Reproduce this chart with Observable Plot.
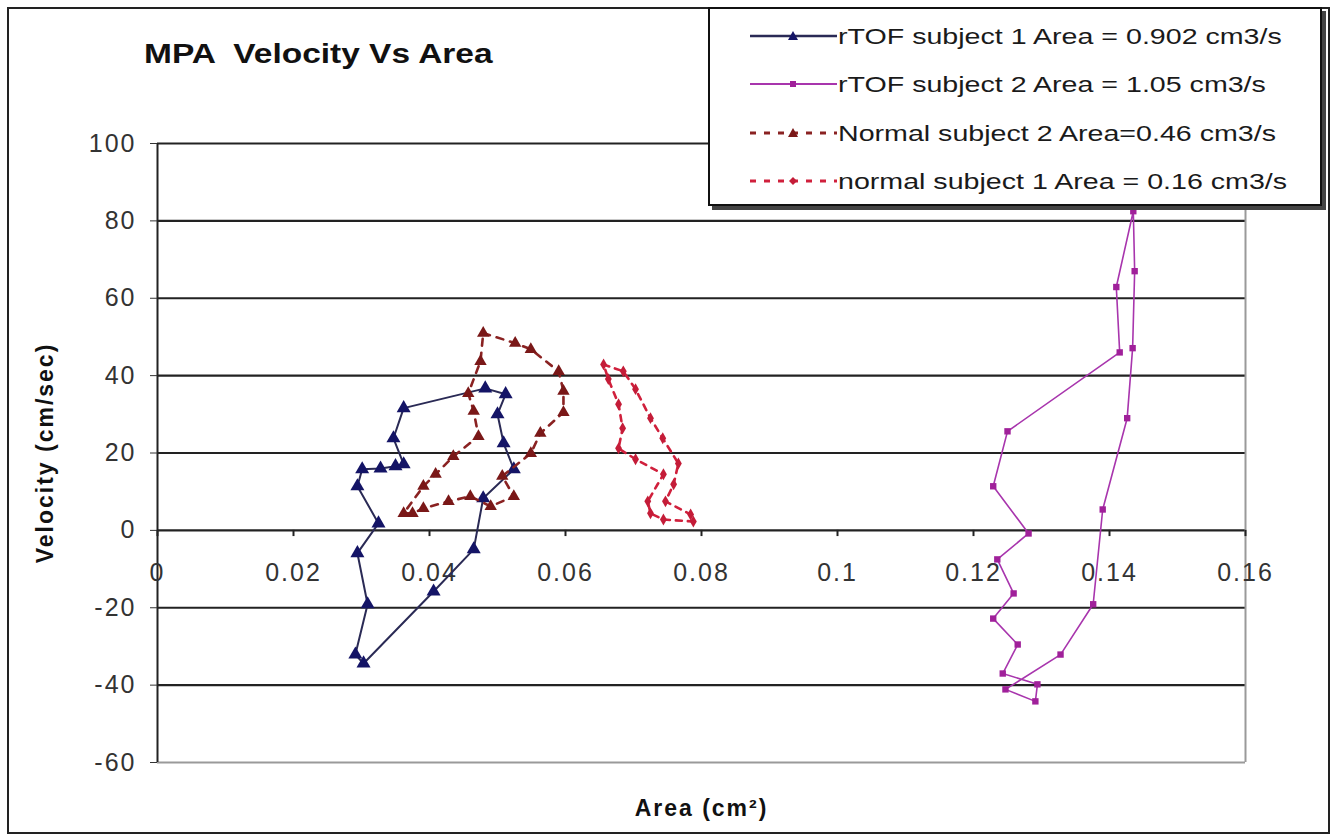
<!DOCTYPE html>
<html><head><meta charset="utf-8">
<script src="https://cdn.jsdelivr.net/npm/d3@7"></script>
<script src="https://cdn.jsdelivr.net/npm/@observablehq/plot@0.6"></script>
<style>
body{margin:0;background:#fff;font-family:"Liberation Sans",Arial,sans-serif;}
#wrap{position:relative;width:1333px;height:836px;overflow:hidden;background:#fff;}
#chart{position:absolute;left:0;top:0;}
#frame{position:absolute;left:7px;top:7px;width:1323px;height:827px;border:2px solid #222;box-sizing:border-box;pointer-events:none;}
#title{position:absolute;left:144px;top:39px;font-weight:bold;font-size:27px;color:#111;transform:scaleX(1.24);transform-origin:left center;white-space:pre;line-height:30px;}
#legend{position:absolute;left:708px;top:7px;width:614px;height:199px;border:2px solid #111;background:#fff;box-shadow:4px 4px 0 #444;box-sizing:border-box;}
.lrow{position:absolute;left:0;height:30px;width:600px;}
.lrow svg{position:absolute;left:38px;top:0;}
.lrow span{position:absolute;left:128px;top:2px;font-size:22px;line-height:26px;color:#1a1a1a;white-space:pre;transform:scaleX(1.3);transform-origin:left center;}
</style></head><body>
<div id="wrap"><div id="chart"></div><div id="frame"></div><div id="title">MPA  Velocity Vs Area</div><div id="legend"></div></div>
<script>
// Tick values
const xTicks = [0, 0.02, 0.04, 0.06, 0.08, 0.1, 0.12, 0.14, 0.16];
const xTickLabels = ["0", "0.02", "0.04", "0.06", "0.08", "0.1", "0.12", "0.14", "0.16"];
const yTicks = [-60, -40, -20, 0, 20, 40, 60, 80, 100];

// Series names
const seriesNames = [
  "rTOF subject 1 Area = 0.902 cm3/s",
  "rTOF subject 2 Area = 1.05 cm3/s",
  "Normal subject 2 Area=0.46 cm3/s",
  "normal subject 1 Area = 0.16 cm3/s"
];

// rTOF subject 1 (area cm², velocity cm/s)
const rtof1Area = [0.0362, 0.0482, 0.0512, 0.0500, 0.0509, 0.0524, 0.0479, 0.0465, 0.0406, 0.0303, 0.0291, 0.0309, 0.0294, 0.0325, 0.0294, 0.0301, 0.0328, 0.0350, 0.0362, 0.0347];
const rtof1Vel  = [31.6, 36.7, 35.2, 30.0, 22.5, 15.8, 8.3, -4.9, -15.8, -34.4, -32.1, -19.1, -5.9, 1.8, 11.4, 15.8, 16.0, 16.6, 17.1, 23.8];

// rTOF subject 2
const rtof2Area = [0.1435, 0.1437, 0.1434, 0.1426, 0.1390, 0.1376, 0.1328, 0.1247, 0.1291, 0.1294, 0.1243, 0.1265, 0.1229, 0.1259, 0.1235, 0.1281, 0.1229, 0.1250, 0.1415, 0.1410];
const rtof2Vel  = [82.5, 67.0, 47.1, 29.0, 5.4, -19.1, -32.1, -41.1, -44.2, -39.8, -37.0, -29.5, -22.8, -16.3, -7.5, -0.8, 11.4, 25.6, 46.0, 62.9];

// Normal subject 2
const norm2Area = [0.0479, 0.0526, 0.0549, 0.0590, 0.0597, 0.0597, 0.0563, 0.0549, 0.0507, 0.0524, 0.0490, 0.0460, 0.0428, 0.0391, 0.0375, 0.0362, 0.0391, 0.0409, 0.0435, 0.0472, 0.0465, 0.0457, 0.0475];
const norm2Vel  = [51.0, 48.4, 46.8, 41.1, 36.0, 30.5, 25.1, 19.9, 14.0, 8.8, 6.2, 8.8, 7.5, 5.7, 4.4, 4.4, 11.4, 14.5, 19.1, 24.3, 30.8, 35.4, 43.7];

// normal subject 1
const norm1Area = [0.0656, 0.0685, 0.0703, 0.0725, 0.0743, 0.0766, 0.0759, 0.0747, 0.0784, 0.0788, 0.0744, 0.0725, 0.0721, 0.0744, 0.0703, 0.0678, 0.0684, 0.0678, 0.0663];
const norm1Vel  = [42.9, 41.1, 36.5, 29.0, 23.8, 17.3, 11.9, 7.5, 4.1, 2.3, 2.8, 4.4, 7.5, 14.5, 18.4, 21.2, 26.4, 32.6, 39.1];

const toRows = (xs, ys) => xs.map((x, i) => ({x, y: ys[i]}));
const s1 = toRows(rtof1Area, rtof1Vel);
const s2 = toRows(rtof2Area, rtof2Vel);
const s3 = toRows(norm2Area, norm2Vel);
const s4 = toRows(norm1Area, norm1Vel);

const styles = [
  {line: "#2a2a55", dot: "#141466", dash: null, symbol: "triangle", r: 5.2, w: 2},
  {line: "#a835ad", dot: "#a0209a", dash: null, symbol: "square", r: 3.6, w: 1.6},
  {line: "#8a2222", dot: "#7a1818", dash: "7,7", symbol: "triangle", r: 4.6, w: 2.6},
  {line: "#d0203c", dot: "#c41c38", dash: "6,6", symbol: "diamond", r: 3.6, w: 2.6}
];
const seriesData = [s1, s2, s3, s4];

const marks = [
  Plot.ruleY(yTicks.filter(d => d > -60), {stroke: "#222", strokeWidth: 2.2}),
  Plot.ruleY([-60], {stroke: "#9a9a9a", strokeWidth: 2}),
  Plot.ruleX([0.16], {stroke: "#9a9a9a", strokeWidth: 2}),
  Plot.ruleX([0], {stroke: "#222", strokeWidth: 2}),
  Plot.axisY({ticks: yTicks, tickSize: 7, tickPadding: 14, fontSize: 25, label: null, color: "#333", tickFormat: d => String(d)}),
  Plot.ruleX(xTicks, {x: d => d, y1: 0, y2: -1.6, stroke: "#222", strokeWidth: 2}),
  Plot.text(xTickLabels, {x: (d, i) => xTicks[i], y: 0, dy: 43, text: d => d, fontSize: 25, fill: "#333"}),
  Plot.text(["Velocity (cm/sec)"], {frameAnchor: "left", dx: -112, rotate: -90, textAnchor: "middle", fontSize: 23, fontWeight: "bold", fill: "#111"}),
  Plot.text(["Area (cm²)"], {frameAnchor: "bottom", dy: 53, fontSize: 23, fontWeight: "bold", fill: "#111"})
];
seriesData.forEach((s, k) => {
  const st = styles[k];
  marks.push(Plot.line(s, {x: "x", y: "y", curve: "linear-closed", stroke: st.line, strokeWidth: st.w, strokeDasharray: st.dash}));
  marks.push(Plot.dot(s, {x: "x", y: "y", symbol: st.symbol, r: st.r, fill: st.dot, stroke: "none"}));
});

const chart = Plot.plot({
  width: 1333, height: 836,
  marginLeft: 157, marginRight: 88, marginTop: 143, marginBottom: 74,
  x: {domain: [0, 0.16], axis: null},
  y: {domain: [-60, 100], axis: null},
  style: {fontFamily: "'Liberation Sans', Arial, sans-serif", background: "transparent", letterSpacing: "2px"},
  marks
});
document.getElementById("chart").appendChild(chart);

// Legend
const legend = document.getElementById("legend");
const rowTops = [13, 61, 110, 158];
seriesNames.forEach((name, k) => {
  const st = styles[k];
  const row = document.createElement("div");
  row.className = "lrow";
  row.style.top = rowTops[k] + "px";
  const sym = st.symbol === "triangle"
    ? `<path d="M45,9 L50,18 L40,18 Z" fill="${st.dot}"/>`
    : st.symbol === "square"
      ? `<rect x="42" y="11" width="6" height="6" fill="${st.dot}"/>`
      : `<path d="M45,10 L49,14 L45,18 L41,14 Z" fill="${st.dot}"/>`;
  row.innerHTML = `<svg width="92" height="30"><line x1="2" x2="89" y1="14" y2="14" stroke="${st.line}" stroke-width="${st.w + 0.4}" ${st.dash ? `stroke-dasharray="6,8"` : ""}/>${sym}</svg><span>${name}</span>`;
  legend.appendChild(row);
});
</script>
</body></html>
